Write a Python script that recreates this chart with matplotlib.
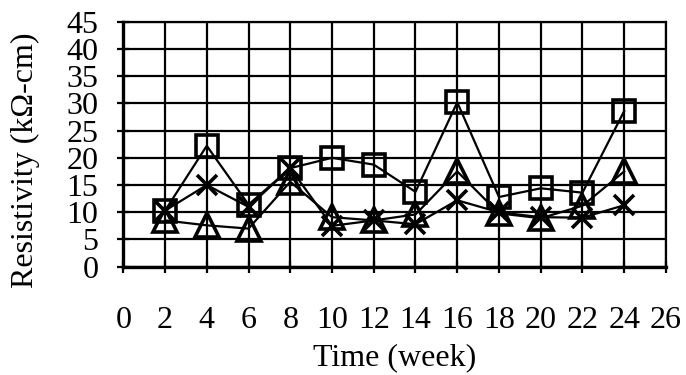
import matplotlib
matplotlib.use("Agg")
import matplotlib.pyplot as plt

# Data
weeks = [2, 4, 6, 8, 10, 12, 14, 16, 18, 20, 22, 24]
res_square = [10.3, 22.2, 11.4, 18.1, 20.0, 18.75, 13.75, 30.2, 12.8, 14.4, 13.6, 28.6]
res_triangle = [8.5, 7.6, 7.0, 15.6, 9.1, 8.5, 9.6, 17.5, 9.8, 8.9, 11.2, 17.5]
res_cross = [10.3, 15.0, 11.0, 18.1, 7.5, 8.5, 7.8, 12.2, 10.0, 9.1, 9.0, 11.3]

x_ticks = list(range(0, 27, 2))
y_ticks = list(range(0, 46, 5))

plt.rcParams['font.family'] = ['Liberation Serif', 'DejaVu Serif']
plt.rcParams['font.size'] = 23

fig = plt.figure(figsize=(6.86, 3.75), dpi=100)
ax = fig.add_axes([0.1797, 0.2888, 0.9708 - 0.1797, 0.9421 - 0.2888])

line_kw = dict(color='black', lw=1.6, markerfacecolor='none',
               markeredgecolor='black', markeredgewidth=2.6, clip_on=False)
ax.plot(weeks, res_square, marker='s', markersize=16, zorder=3, **line_kw)
ax.plot(weeks, res_triangle, marker='^', markersize=17, zorder=3, **line_kw)
ax.plot(weeks, res_cross, marker='x', markersize=15, zorder=3, **line_kw)

ax.set_xlim(0, 26)
ax.set_ylim(0, 45)
ax.set_xticks(x_ticks)
ax.set_yticks(y_ticks)
ax.grid(True, color='black', lw=1.6)
ax.set_axisbelow(True)

for side in ['left', 'bottom']:
    ax.spines[side].set_linewidth(2.4)
for side in ['top', 'right']:
    ax.spines[side].set_linewidth(1.6)

ax.tick_params(axis='both', direction='inout', length=8, width=1.6)
ax.tick_params(axis='y', pad=14)
ax.tick_params(axis='x', pad=24)

ax.set_xlabel('Time (week)', labelpad=6)
ax.set_ylabel('Resistivity (kΩ-cm)')
ax.yaxis.set_label_coords(-0.153, 0.435)

fig.savefig('out.png', dpi=100)
